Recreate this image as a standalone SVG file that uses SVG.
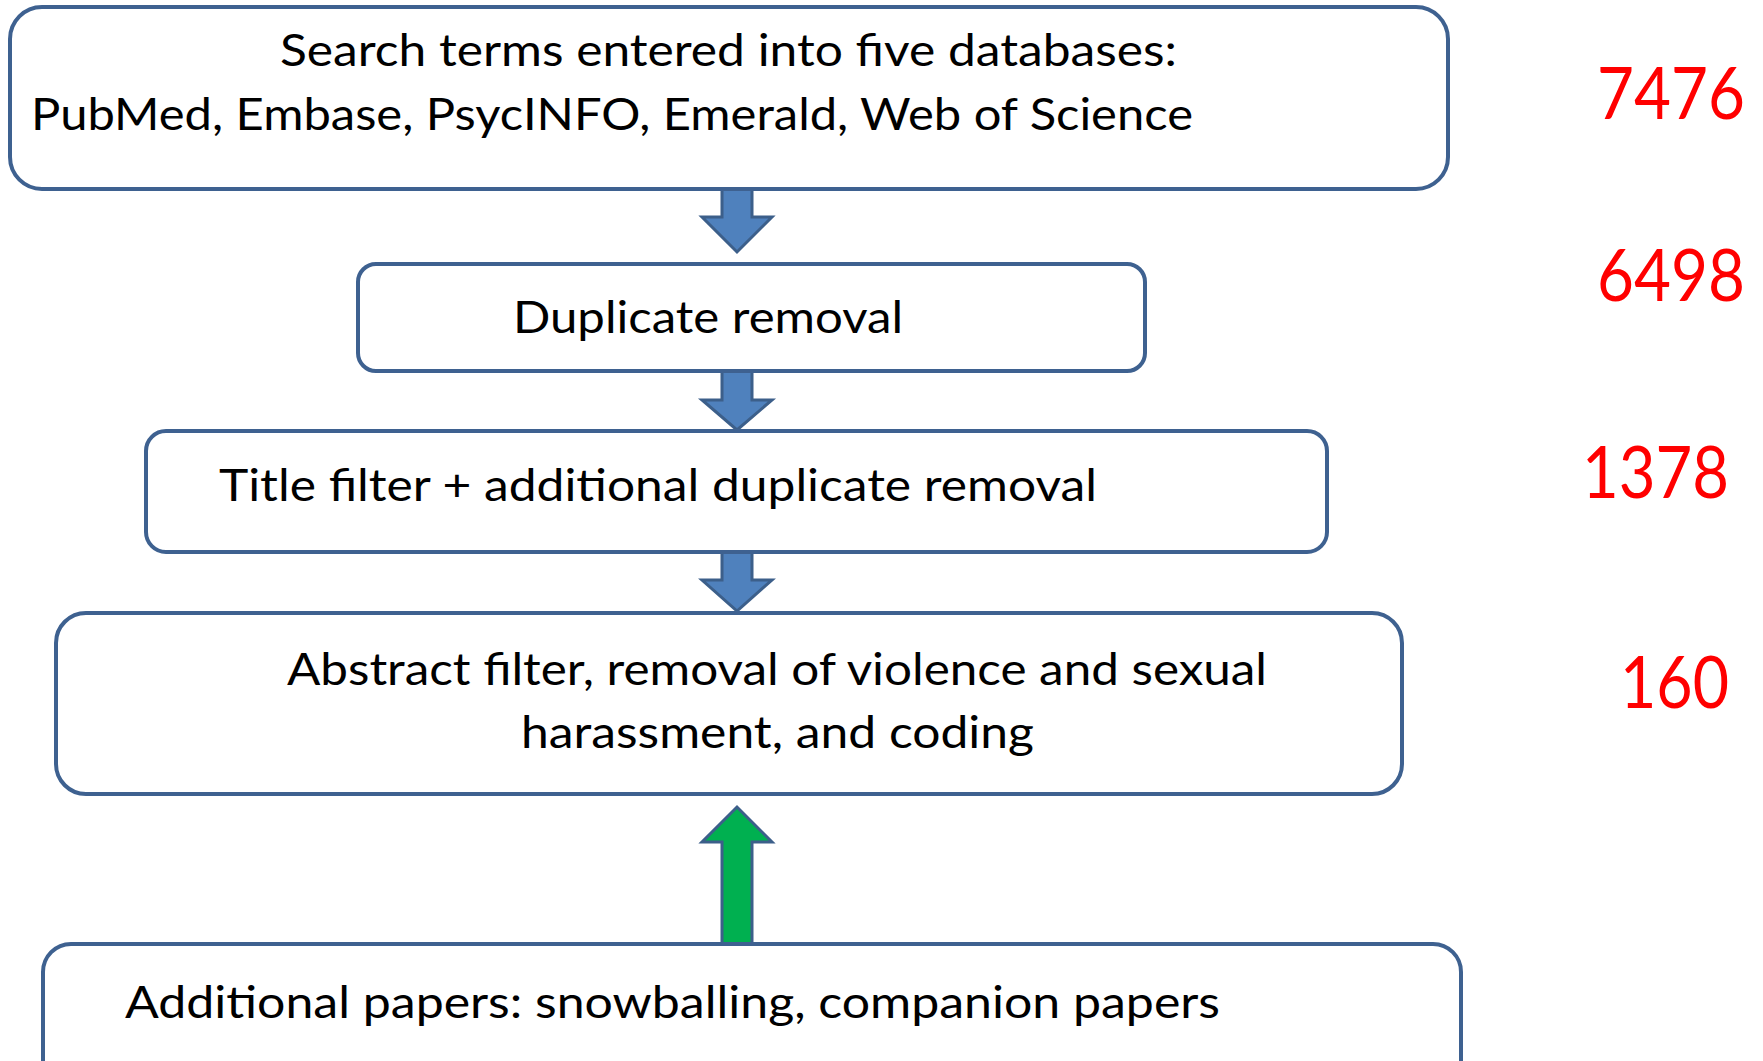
<svg xmlns="http://www.w3.org/2000/svg" width="1763" height="1061" viewBox="0 0 1763 1061">
<style>
.box{fill:#fff;stroke:#3E6190;stroke-width:4}
.t{font-family:Lato,"Open Sans","Liberation Sans",sans-serif;font-size:45px;fill:#000}
.n{font-family:Lato,"Open Sans","Liberation Sans",sans-serif;font-size:72px;fill:#FF0000}
.ab{fill:#4F81BD;stroke:#3C5F8A;stroke-width:3;stroke-linejoin:miter}
.ag{fill:#00B050;stroke:#3C5F8A;stroke-width:3;stroke-linejoin:miter}
</style>
<rect width="1763" height="1061" fill="#fff"/>
<g id="connectors">
<path class="ab" d="M722,189 H752 V217 H772 L737,252 L702,217 H722 Z"/>
<path class="ab" d="M722,371 H752 V400 H772 L737,430 L702,400 H722 Z"/>
<path class="ab" d="M722,552 H752 V580 H772 L737,611 L702,580 H722 Z"/>
<path class="ag" d="M722,945 H752 V842 H772 L737,807 L702,842 H722 Z"/>
</g>
<g id="node1">
<rect class="box" x="10" y="7" width="1438" height="182" rx="32"/>
<text class="t" x="280" y="66" textLength="897" lengthAdjust="spacingAndGlyphs">Search terms entered into five databases:</text>
<text class="t" x="31" y="130" textLength="1162" lengthAdjust="spacingAndGlyphs">PubMed, Embase, PsycINFO, Emerald, Web of Science</text>
</g>
<g id="node2">
<rect class="box" x="358" y="264" width="787" height="107" rx="18"/>
<text class="t" x="513" y="333" textLength="390" lengthAdjust="spacingAndGlyphs">Duplicate removal</text>
</g>
<g id="node3">
<rect class="box" x="146" y="431" width="1181" height="121" rx="20"/>
<text class="t" x="219" y="501" textLength="878" lengthAdjust="spacingAndGlyphs">Title filter + additional duplicate removal</text>
</g>
<g id="node4">
<rect class="box" x="56" y="613" width="1346" height="181" rx="30"/>
<text class="t" x="287" y="685" textLength="980" lengthAdjust="spacingAndGlyphs">Abstract filter, removal of violence and sexual</text>
<text class="t" x="521" y="748" textLength="513" lengthAdjust="spacingAndGlyphs">harassment, and coding</text>
</g>
<g id="node5">
<rect class="box" x="43" y="944" width="1418" height="160" rx="28"/>
<text class="t" x="125" y="1018" textLength="1095" lengthAdjust="spacingAndGlyphs">Additional papers: snowballing, companion papers</text>
</g>
<g id="counts">
<text class="n" x="1597" y="119" textLength="148" lengthAdjust="spacingAndGlyphs">7476</text>
<text class="n" x="1597" y="301" textLength="148" lengthAdjust="spacingAndGlyphs">6498</text>
<text class="n" x="1582" y="498" textLength="147" lengthAdjust="spacingAndGlyphs">1378</text>
<text class="n" x="1620" y="708" textLength="109" lengthAdjust="spacingAndGlyphs">160</text>
</g>
</svg>
